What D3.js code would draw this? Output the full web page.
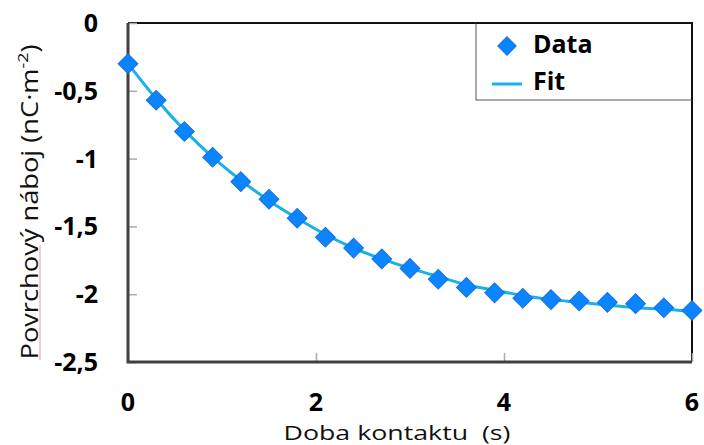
<!DOCTYPE html>
<html>
<head>
<meta charset="utf-8">
<script src="https://cdn.jsdelivr.net/npm/d3@7"></script>
<style>
  body { margin: 0; background: #fff; }
  svg { display: block; font-family: "Open Sans", sans-serif; }
</style>
</head>
<body>
<div id="vis"></div>
<script>
// data
var times = [0, 0.3, 0.6, 0.9, 1.2, 1.5, 1.8, 2.1, 2.4, 2.7, 3.0,
             3.3, 3.6, 3.9, 4.2, 4.5, 4.8, 5.1, 5.4, 5.7, 6.0];
var dataValues = [-0.30, -0.57, -0.80, -0.99, -1.17, -1.30, -1.44, -1.58, -1.66, -1.74, -1.81,
                  -1.89, -1.95, -1.99, -2.03, -2.04, -2.05, -2.06, -2.07, -2.10, -2.12];
var fitValues = [-0.30, -0.56, -0.79, -0.99, -1.16, -1.31, -1.44, -1.56, -1.66, -1.74, -1.81,
                 -1.87, -1.93, -1.97, -2.01, -2.04, -2.06, -2.08, -2.10, -2.11, -2.13];
var xTicks = [0, 2, 4, 6];
var yTicks = [0, -0.5, -1, -1.5, -2, -2.5];
var legendItems = ['Data', 'Fit'];

var width = 704, height = 445;
var margin = { left: 128, top: 23, right: 12, bottom: 83 };

var svg = d3.select('#vis')
    .append('svg')
        .attr('width', width)
        .attr('height', height);

var x = d3.scaleLinear().domain([0, 6]).range([margin.left, width - margin.right]);
var y = d3.scaleLinear().domain([-2.5, 0]).range([height - margin.bottom, margin.top]);

var fmt = function(d) { return String(d).replace('.', ','); };

// top and right border
svg.append('path')
    .attr('d', 'M' + x(0) + ',' + y(0) + 'H' + x(6) + 'V' + y(-2.5))
    .attr('fill', 'none')
    .attr('stroke', '#111')
    .attr('stroke-width', 2);

// inner ticks
var yAxis = svg.append('g')
    .attr('transform', 'translate(' + x(0) + ',0)')
    .call(d3.axisRight(y).tickValues(yTicks).tickSize(9).tickFormat(''));
var xAxis = svg.append('g')
    .attr('transform', 'translate(0,' + y(-2.5) + ')')
    .call(d3.axisTop(x).tickValues(xTicks).tickSize(9).tickFormat(''));
[yAxis, xAxis].forEach(function(a) {
    a.select('.domain').remove();
    a.selectAll('.tick line').attr('stroke', '#aaa').attr('stroke-width', 1.5);
});

// left and bottom axis lines
svg.append('path')
    .attr('d', 'M' + x(0) + ',' + y(0) + 'V' + y(-2.5) + 'H' + x(6))
    .attr('fill', 'none')
    .attr('stroke', '#404040')
    .attr('stroke-width', 3);

// tick labels
svg.selectAll('.ylab')
    .data(yTicks)
    .enter().append('text')
        .attr('class', 'ylab')
        .attr('x', 98)
        .attr('y', function(d) { return y(d); })
        .attr('dy', '0.36em')
        .attr('text-anchor', 'end')
        .attr('font-size', 25)
        .attr('font-weight', 'bold')
        .text(fmt);

svg.selectAll('.xlab')
    .data(xTicks)
    .enter().append('text')
        .attr('class', 'xlab')
        .attr('x', function(d) { return x(d); })
        .attr('y', 411)
        .attr('text-anchor', 'middle')
        .attr('font-size', 25)
        .attr('font-weight', 'bold')
        .text(fmt);

// axis titles (glyphs stretched along the text like in the reference)
svg.append('text')
    .attr('x', 397)
    .attr('y', 440)
    .attr('text-anchor', 'middle')
    .attr('font-size', 20)
    .attr('fill', '#111')
    .attr('xml:space', 'preserve')
    .attr('textLength', 227)
    .attr('lengthAdjust', 'spacingAndGlyphs')
    .text('Doba kontaktu  (s)');

var yTitle = svg.append('text')
    .attr('transform', 'translate(38,202) rotate(-90)')
    .attr('text-anchor', 'middle')
    .attr('font-size', 23)
    .attr('fill', '#111')
    .attr('textLength', 315)
    .attr('lengthAdjust', 'spacingAndGlyphs');
yTitle.append('tspan').text('Povrchový náboj (nC·m');
yTitle.append('tspan').attr('dy', -10).attr('font-size', 15).text('-2');
yTitle.append('tspan').attr('dy', 10).text(')');

// spell-check underline under "Povrchový"
svg.append('line')
    .attr('x1', 40).attr('x2', 40)
    .attr('y1', 245).attr('y2', 360)
    .attr('stroke', '#f2a8a8')
    .attr('stroke-width', 1.2);

// fit line
var line = d3.line()
    .x(function(d, i) { return x(times[i]); })
    .y(function(d) { return y(d); })
    .curve(d3.curveMonotoneX);

svg.append('path')
    .datum(fitValues)
    .attr('d', line)
    .attr('fill', 'none')
    .attr('stroke', '#1ab0e8')
    .attr('stroke-width', 3);

// data markers
var diamond = d3.symbol().type(d3.symbolSquare).size(195);
svg.selectAll('.dot')
    .data(dataValues)
    .enter().append('path')
        .attr('class', 'dot')
        .attr('d', diamond)
        .attr('transform', function(d, i) { return 'translate(' + x(times[i]) + ',' + y(d) + ') rotate(45)'; })
        .attr('fill', '#0a84ff')
        .attr('stroke', '#1a6fe0')
        .attr('stroke-width', 1);

// legend
var lg = svg.append('g');
lg.append('rect')
    .attr('x', 476)
    .attr('y', y(0))
    .attr('width', x(6) - 476)
    .attr('height', 77)
    .attr('fill', '#fff')
    .attr('stroke', '#555')
    .attr('stroke-width', 1);
svg.append('path')
    .attr('d', 'M' + 476 + ',' + y(0) + 'H' + x(6) + 'V' + (y(0) + 77))
    .attr('fill', 'none')
    .attr('stroke', '#111')
    .attr('stroke-width', 2);

lg.append('path')
    .attr('d', d3.symbol().type(d3.symbolSquare).size(170))
    .attr('transform', 'translate(507,46) rotate(45)')
    .attr('fill', '#0a84ff')
    .attr('stroke', '#1a6fe0');
lg.append('line')
    .attr('x1', 492).attr('x2', 522)
    .attr('y1', 84).attr('y2', 84)
    .attr('stroke', '#1ab0e8')
    .attr('stroke-width', 3);
lg.selectAll('.ltext')
    .data(legendItems)
    .enter().append('text')
        .attr('class', 'ltext')
        .attr('x', 533)
        .attr('y', function(d, i) { return 53 + i * 37; })
        .attr('font-size', 25)
        .attr('font-weight', 'bold')
        .text(function(d) { return d; });
</script>
</body>
</html>
